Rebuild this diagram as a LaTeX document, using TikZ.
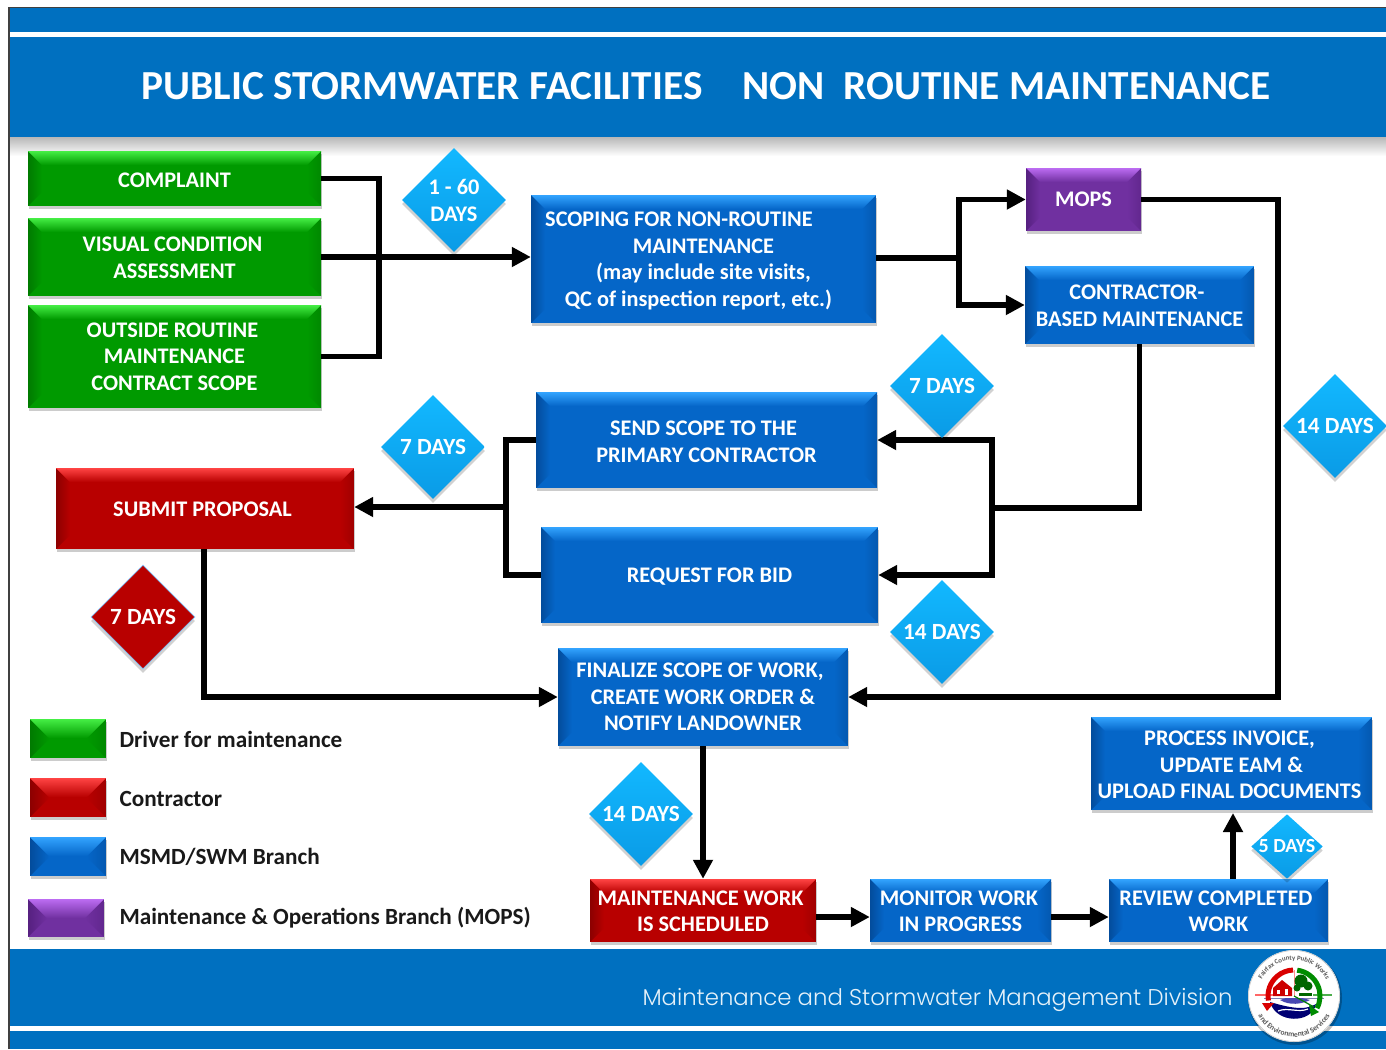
\documentclass[tikz,border=0pt]{standalone}
\usepackage{fontspec}
\setmainfont{Carlito}
\newfontfamily\footfont{Poppins Light}
\usetikzlibrary{shapes.geometric,shadows,arrows.meta,decorations.text,calc}
\definecolor{hdr}{HTML}{0070C0}
\definecolor{gBase}{HTML}{009A00}\definecolor{gLight}{HTML}{45EE45}\definecolor{gDark}{HTML}{007A00}
\definecolor{rBase}{HTML}{B80000}\definecolor{rLight}{HTML}{FF4444}\definecolor{rDark}{HTML}{8C0000}
\definecolor{bBase}{HTML}{0566C8}\definecolor{bLight}{HTML}{33A4FF}\definecolor{bDark}{HTML}{034C9C}
\definecolor{pBase}{HTML}{7030A0}\definecolor{pLight}{HTML}{BC6CF2}\definecolor{pDark}{HTML}{562080}
\definecolor{dTop}{HTML}{12B8FF}\definecolor{dBot}{HTML}{0A9BE6}
\newcommand\dn[1]{\rule{0pt}{\dimexpr 14pt+2pt*#1\relax}}
\tikzset{
  x=1pt,y=-1pt,
  bevel depth/.store in=\bvd, bevel depth=14,
  softshadow/.style={drop shadow={shadow xshift=0.5pt,shadow yshift=-3pt,opacity=.2,fill=black}},
  bevelbox/.style n args={3}{rectangle,inner sep=0pt,align=center,text=white,
    font=\fontsize{22.3}{26.5}\selectfont\bfseries,fill=#1,softshadow,
    path picture={
      \coordinate (pa) at (path picture bounding box.north west);
      \coordinate (pb) at (path picture bounding box.north east);
      \coordinate (pc) at (path picture bounding box.south east);
      \coordinate (pd) at (path picture bounding box.south west);
      \shade[left color=#3,right color=#1] (pa) -- ($(pa)+(\bvd,\bvd)$) -- ($(pd)+(\bvd,-\bvd)$) -- (pd) -- cycle;
      \shade[left color=#1,right color=#3!55!#1] (pb) -- ($(pb)+(-\bvd,\bvd)$) -- ($(pc)+(-\bvd,-\bvd)$) -- (pc) -- cycle;
      \shade[top color=#2,bottom color=#1] (pa) -- (pb) -- ($(pb)+(-\bvd,\bvd)$) -- ($(pa)+(\bvd,\bvd)$) -- cycle;
    }},
  greenbox/.style={bevelbox={gBase}{gLight}{gDark}},
  redbox/.style={bevelbox={rBase}{rLight}{rDark}},
  bluebox/.style={bevelbox={bBase}{bLight}{bDark}},
  purplebox/.style={bevelbox={pBase}{pLight}{pDark}},
  daybase/.style={diamond,aspect=1,inner sep=0pt,minimum width=104pt,minimum height=104pt,
    text=white,align=center,font=\fontsize{23.2}{27}\selectfont\bfseries,
    drop shadow={shadow xshift=0pt,shadow yshift=-4pt,opacity=.18,fill=black}},
  blueday/.style={daybase,top color=dTop,bottom color=dBot},
  redday/.style={daybase,fill=rBase,draw=bLight!60!white,line width=.6pt},
  wire/.style={line width=5.7pt,draw=black},
  arrowwire/.style={wire,-{Triangle[length=19pt,width=19pt]}},
  legendtext/.style={anchor=west,font=\fontsize{23.2}{26}\selectfont\bfseries,text=black!90},
  sizedbox/.style 2 args={minimum width=#1 pt,minimum height=#2 pt},
}
\begin{document}
\begin{tikzpicture}
\useasboundingbox (0,0) rectangle (1386,1049);
\fill[white] (0,0) rectangle (1386,1049);
% frame and bands
\shade[top color=black!28,bottom color=white] (9,137) rectangle (1386,156);
\fill[hdr] (9,8) rectangle (1386,137);
\fill[white] (9,32) rectangle (1386,37);
\fill[hdr] (9,949) rectangle (1386,1049);
\fill[white] (9,1026) rectangle (1386,1031);
\draw[black!75,line width=1.5pt] (9,1049) -- (9,7.5) -- (1386,7.5);
\node (title) at (706,86) {\color{white}\fontsize{41.3}{44}\selectfont\bfseries PUBLIC STORMWATER FACILITIES\hspace{40pt}NON\hspace{9pt} ROUTINE MAINTENANCE};
\node[anchor=east,text=white!90!hdr] (foot) at (1236,1000) {\footfont\fontsize{22.8}{28}\selectfont Maintenance and Stormwater Management Division};

% boxes
\node[greenbox,sizedbox={293}{55}] (complaint) at (174.5,178.5) {\dn{2}COMPLAINT};
\node[greenbox,sizedbox={293}{78}] (visual) at (174.5,257) {\dn{1}VISUAL CONDITION\hspace*{4pt}\\ASSESSMENT};
\node[greenbox,sizedbox={293}{103}] (outside) at (174.5,356.5) {OUTSIDE ROUTINE\hspace*{4pt}\\MAINTENANCE\\CONTRACT SCOPE};
\node[bluebox,sizedbox={345}{128}] (scoping) at (703.5,259) {\dn{2}\hspace*{-49pt}SCOPING FOR NON-ROUTINE\\MAINTENANCE\hspace*{12pt}\\(may include site visits,\hspace*{11pt}\\QC of inspection report, etc.)\hspace*{10pt}};
\node[purplebox,sizedbox={115}{63}] (mops) at (1083.5,199.5) {MOPS};
\node[bluebox,sizedbox={229}{78}] (contractor) at (1139.5,305) {\dn{1}CONTRACTOR-\hspace*{5pt}\\BASED MAINTENANCE};
\node[bluebox,sizedbox={341}{96}] (send) at (706.5,440) {\dn{2}SEND SCOPE TO THE\hspace*{6pt}\\PRIMARY CONTRACTOR};
\node[bluebox,sizedbox={337}{96}] (bid) at (709.5,575) {\dn{2}REQUEST FOR BID};
\node[redbox,sizedbox={298}{81}] (submit) at (205,508.5) {\dn{1}SUBMIT PROPOSAL\hspace*{5pt}};
\node[bluebox,sizedbox={290}{98}] (finalize) at (703,697) {FINALIZE SCOPE OF WORK,\hspace*{6pt}\\CREATE WORK ORDER \&\hspace*{8pt}\\NOTIFY LANDOWNER};
\node[redbox,sizedbox={226}{63}] (maint) at (703,910.5) {\dn{1}MAINTENANCE WORK\hspace*{5pt}\\IS SCHEDULED};
\node[bluebox,sizedbox={181}{63}] (monitor) at (960.5,910.5) {\dn{1}MONITOR WORK\hspace*{3pt}\\IN PROGRESS};
\node[bluebox,sizedbox={219}{63}] (review) at (1218.5,910.5) {\dn{1}REVIEW COMPLETED\hspace*{5pt}\\WORK};
\node[bluebox,sizedbox={281}{93}] (process) at (1231.5,763.5) {\dn{2}PROCESS INVOICE,\hspace*{4pt}\\UPDATE EAM \&\hspace*{6pt}\\UPLOAD FINAL DOCUMENTS\hspace*{4pt}};

% junctions
\coordinate (j1a) at (379,178.5);
\coordinate (j1b) at (379,356.5);
\coordinate (j2) at (959,258);
\coordinate (j3) at (992,508);
\coordinate (j4) at (506,507);

% connectors
\draw[wire,line join=miter] (complaint.east) -- (j1a) -- (j1b) -- (outside.east);
\draw[arrowwire] (visual.east) -- (scoping.west |- visual.east);
\draw[wire] (scoping.east |- j2) -- (j2);
\draw[arrowwire] (j2) |- (mops.west);
\draw[arrowwire] (j2) |- (contractor.west);
\draw[arrowwire] (mops.east) -- (1278,199.5) |- (finalize.east);
\draw[wire] (contractor.south) |- (j3);
\draw[arrowwire] (j3) |- (send.east);
\draw[arrowwire] (j3) |- (bid.east);
\draw[wire] (send.west) -| (j4);
\draw[wire] (j4) |- (bid.west);
\draw[arrowwire] (j4) -- (submit.east |- j4);
\draw[arrowwire] (204,549) |- (finalize.west);
\draw[arrowwire] (finalize.south |- 0,746) -- (maint.north);
\draw[arrowwire] (maint.east |- 0,917) -- (monitor.west |- 0,917);
\draw[arrowwire] (monitor.east |- 0,917) -- (review.west |- 0,917);
\draw[arrowwire] (1233,879) -- (1233,813);

% day diamonds
\node[blueday,font=\fontsize{22.3}{27}\selectfont\bfseries] (d1) at (454,200) {1 - 60\\DAYS};
\node[blueday] (d2) at (942,386) {7 DAYS};
\node[blueday] (d3) at (433,447) {7 DAYS};
\node[blueday] (d4) at (1335,426) {14 DAYS};
\node[redday] (d5) at (143,617) {7 DAYS};
\node[blueday] (d6) at (942,632) {14 DAYS};
\node[blueday] (d7) at (641,814) {14 DAYS};
\node[blueday,aspect=1.11,minimum width=70pt,minimum height=63pt,font=\fontsize{20}{22}\selectfont\bfseries] (d8) at (1287,846.5) {5 DAYS};

% legend
\node[greenbox,bevel depth=19,sizedbox={76}{39}] (lg) at (68,738.5) {};
\node[redbox,bevel depth=19,sizedbox={76}{39}] (lr) at (68,797.5) {};
\node[bluebox,bevel depth=19,sizedbox={76}{39}] (lb) at (68,856.5) {};
\node[purplebox,bevel depth=19,sizedbox={76}{38}] (lp) at (66,918) {};
\node[legendtext] (tg) at (116,739) {Driver for maintenance};
\node[legendtext] (tr) at (116,798.5) {Contractor};
\node[legendtext] (tb) at (116,857) {MSMD/SWM Branch};
\node[legendtext] (tp) at (116,917.5) {Maintenance \& Operations Branch (MOPS)};

% logo
\begin{scope}[shift={(1294,996)},y=1pt]
\fill[black,opacity=.25] (1,-2) circle (47);
\fill[white] (0,0) circle (46);
\draw[draw=black!25,line width=.5pt] (0,0) circle (45.5);
% cross lines
\draw[red!60!white,line width=1.3pt] (-39,1) -- (-14,1);
\draw[green!55!black!70!white,line width=1.3pt] (19,1) -- (38,1);
\draw[blue!40!black!50!white,line width=1pt] (-30,-2) -- (30,-2);
\draw[red!45!white,line width=.8pt] (0,26) -- (0,0);
% house
\fill[red!80!black] (-21,0) -- (-21,8) -- (-12,16) -- (-2,8) -- (-2,0) -- cycle;
\fill[white] (-17,2) rectangle (-14,6);
\fill[white] (-9,1) rectangle (-6,7);
% trees
\fill[green!40!black] (7,15) circle (6.5);
\fill[green!40!black] (14,10) circle (4.5);
\fill[green!40!black] (3,8) circle (3.5);
\fill[green!40!black] (5,0) rectangle (18,3);
% water
\fill[blue!45!black] (-24,-6) .. controls (-18,-28) and (18,-28) .. (22,-8) .. controls (10,-16) and (-10,-10) .. (-24,-6) -- cycle;
\fill[blue!60!white!70!black] (-14,-4) .. controls (-4,-10) and (8,-8) .. (16,-4) -- (8,-2) -- (-8,-2) -- cycle;
\draw[white,line width=1.2pt] (-16,-15) .. controls (-6,-11) and (4,-17) .. (14,-13);
\draw[green!50!black,line width=1.2pt] (0,0) -- (20,-11);
% red and green arcs
\draw[red!85!black,line width=5pt] (190:26) arc[start angle=190,end angle=92,radius=26];
\fill[red!85!black] (-32,-7) -- (-20,-7) -- (-27,-15) -- cycle;
\draw[green!55!black,line width=5pt] (83:26) arc[start angle=83,end angle=-28,radius=26];
\fill[green!55!black] (15,-9) -- (25,-16) -- (17,-20) -- cycle;
% ring texts
\path[postaction={decorate,decoration={text along path,text align=center,
  text={|\fontsize{6.8}{8}\selectfont\bfseries\color{black!65}|Fairfax County Public Works}}}]
  (156:36) arc[start angle=156,end angle=24,radius=36];
\path[postaction={decorate,decoration={text along path,text align=center,
  text={|\fontsize{7.6}{9}\selectfont\bfseries\color{black!65}|and Environmental Services}}}]
  (194:41) arc[start angle=194,end angle=346,radius=41];
\end{scope}
\end{tikzpicture}
\end{document}
